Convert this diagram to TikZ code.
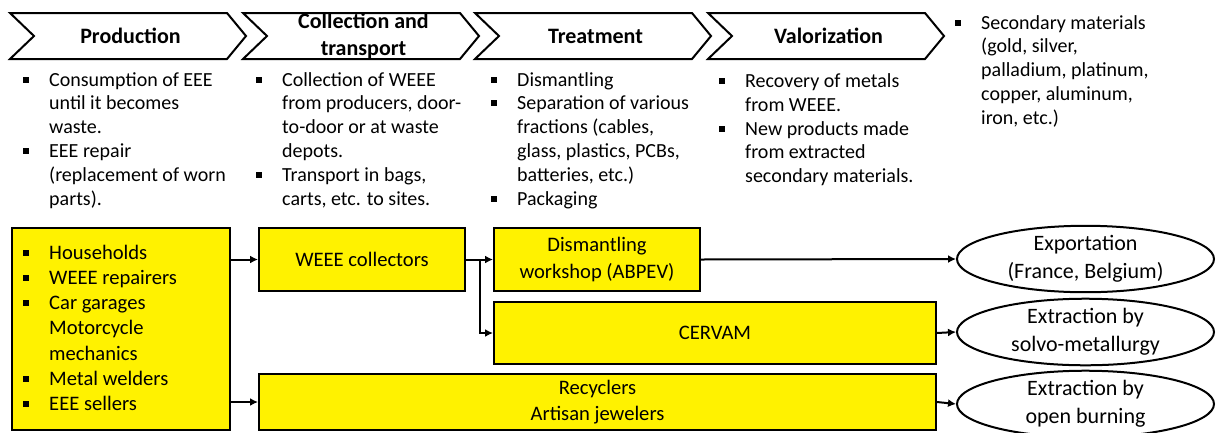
\documentclass[tikz,border=0pt]{standalone}
\usepackage{fontspec}
\setmainfont{Carlito}
\usetikzlibrary{shapes,calc,arrows.meta}
\newcommand{\sqb}{\rule[3.5pt]{6pt}{6pt}}
\tikzset{
  chev/.style={line width=2pt, line join=miter},
  head/.style={align=center, inner sep=0pt, font={\fontsize{22}{27}\selectfont\bfseries}},
  ybox/.style={draw, fill=yellow, line width=2pt, inner sep=0pt, align=center, font={\fontsize{20.6}{26.5}\selectfont}},
  oval/.style={draw, ellipse, line width=2pt, inner sep=0pt, minimum width=257, minimum height=64, align=center, font={\fontsize{22}{28}\selectfont}},
  blist/.style={anchor=base west, inner sep=0pt, font={\fontsize{20}{23.8}\selectfont}},
  arr/.style={line width=2pt, -{Latex[length=8pt,width=8pt]}}
}

\begin{document}
\begin{tikzpicture}[x=1pt,y=-1pt]
          \useasboundingbox (0,0) rectangle (1216,432);
          % stages
          \foreach \x/\nm/\txt in {10/hProd/Production, 243/hColl/{Collection and\\transport}, 475/hTreat/Treatment, 708/hValo/Valorization}{
            \draw[chev] (\x,13) -- ++(217,0) -- ++(19,23) -- ++(-19,23) -- ++(-217,0) -- ++(24,-23) -- cycle;
            \node[head] (\nm) at (\x+120.5,36) {\txt};
          }
          % activities
          \node[blist] (lProd) at (23,86) {\begin{tabular}[t]{@{}l@{\hspace{20pt}}l@{}}
            \sqb & Consumption of EEE\\ & until it becomes\\ & waste.\\
            \sqb & EEE repair\\ & (replacement of worn\\ & parts).
          \end{tabular}};
          \node[blist] (lColl) at (256,86) {\begin{tabular}[t]{@{}l@{\hspace{20pt}}l@{}}
            \sqb & Collection of WEEE\\ & from producers, door-\\ & to-door or at waste\\ & depots.\\
            \sqb & Transport in bags,\\ & carts, etc. to sites.
          \end{tabular}};
          \node[blist] (lTreat) at (491,86) {\begin{tabular}[t]{@{}l@{\hspace{20pt}}l@{}}
            \sqb & Dismantling\\
            \sqb & Separation of various\\ & fractions (cables,\\ & glass, plastics, PCBs,\\ & batteries, etc.)\\
            \sqb & Packaging
          \end{tabular}};
          \node[blist] (lValo) at (719,87.5) {\begin{tabular}[t]{@{}l@{\hspace{20pt}}l@{}}
            \sqb & Recovery of metals\\ & from WEEE.\\
            \sqb & New products made\\ & from extracted\\ & secondary materials.
          \end{tabular}};
          \node[blist] (lSec) at (955,29) {\begin{tabular}[t]{@{}l@{\hspace{20pt}}l@{}}
            \sqb & Secondary materials\\ & (gold, silver,\\ & palladium, platinum,\\ & copper, aluminum,\\ & iron, etc.)
          \end{tabular}};
          % actors
          \node[ybox, minimum width=218, minimum height=202] (src) at (121,329) {};
          \node[blist, font={\fontsize{20.6}{25.3}\selectfont}] (lSrc) at (23,259) {\begin{tabular}[t]{@{}l@{\hspace{20pt}}l@{}}
            \sqb & Households\\ \sqb & WEEE repairers\\ \sqb & Car garages\\ & Motorcycle\\ & mechanics\\
            \sqb & Metal welders\\ \sqb & EEE sellers
          \end{tabular}};
          \node[ybox, minimum width=206, minimum height=63] (collect) at (362,259.5) {WEEE collectors};
          \node[ybox, minimum width=206, minimum height=63] (dism) at (597,259.5) {Dismantling\\workshop (ABPEV)};
          \node[ybox, minimum width=442, minimum height=62] (cervam) at (715,333) {CERVAM};
          \node[ybox, minimum width=677, minimum height=56] (recyc) at (597.5,402) {Recyclers\\Artisan jewelers};
          \node[oval] (export) at (1085.5,259) {Exportation\\(France, Belgium)};
          \node[oval] (solvo) at (1085.5,332) {Extraction by\\solvo-metallurgy};
          \node[oval] (burn) at (1085.5,404) {Extraction by\\open burning};
          % flows
          \coordinate (split) at ($(collect.east)!0.5!(dism.west)$);
          \draw[arr] (src.east |- collect.west) -- (collect.west);
          \draw[arr] (src.east |- recyc.west) -- (recyc.west);
          \draw[arr] (collect.east) -- (dism.west);
          \draw[arr] (split) |- (cervam.west);
          \draw[arr] (dism.east) -- (export.west);
          \draw[arr] (cervam.east) -- (solvo.west);
          \draw[arr] (recyc.east) -- (burn.west);
      \end{tikzpicture}
\end{document}
